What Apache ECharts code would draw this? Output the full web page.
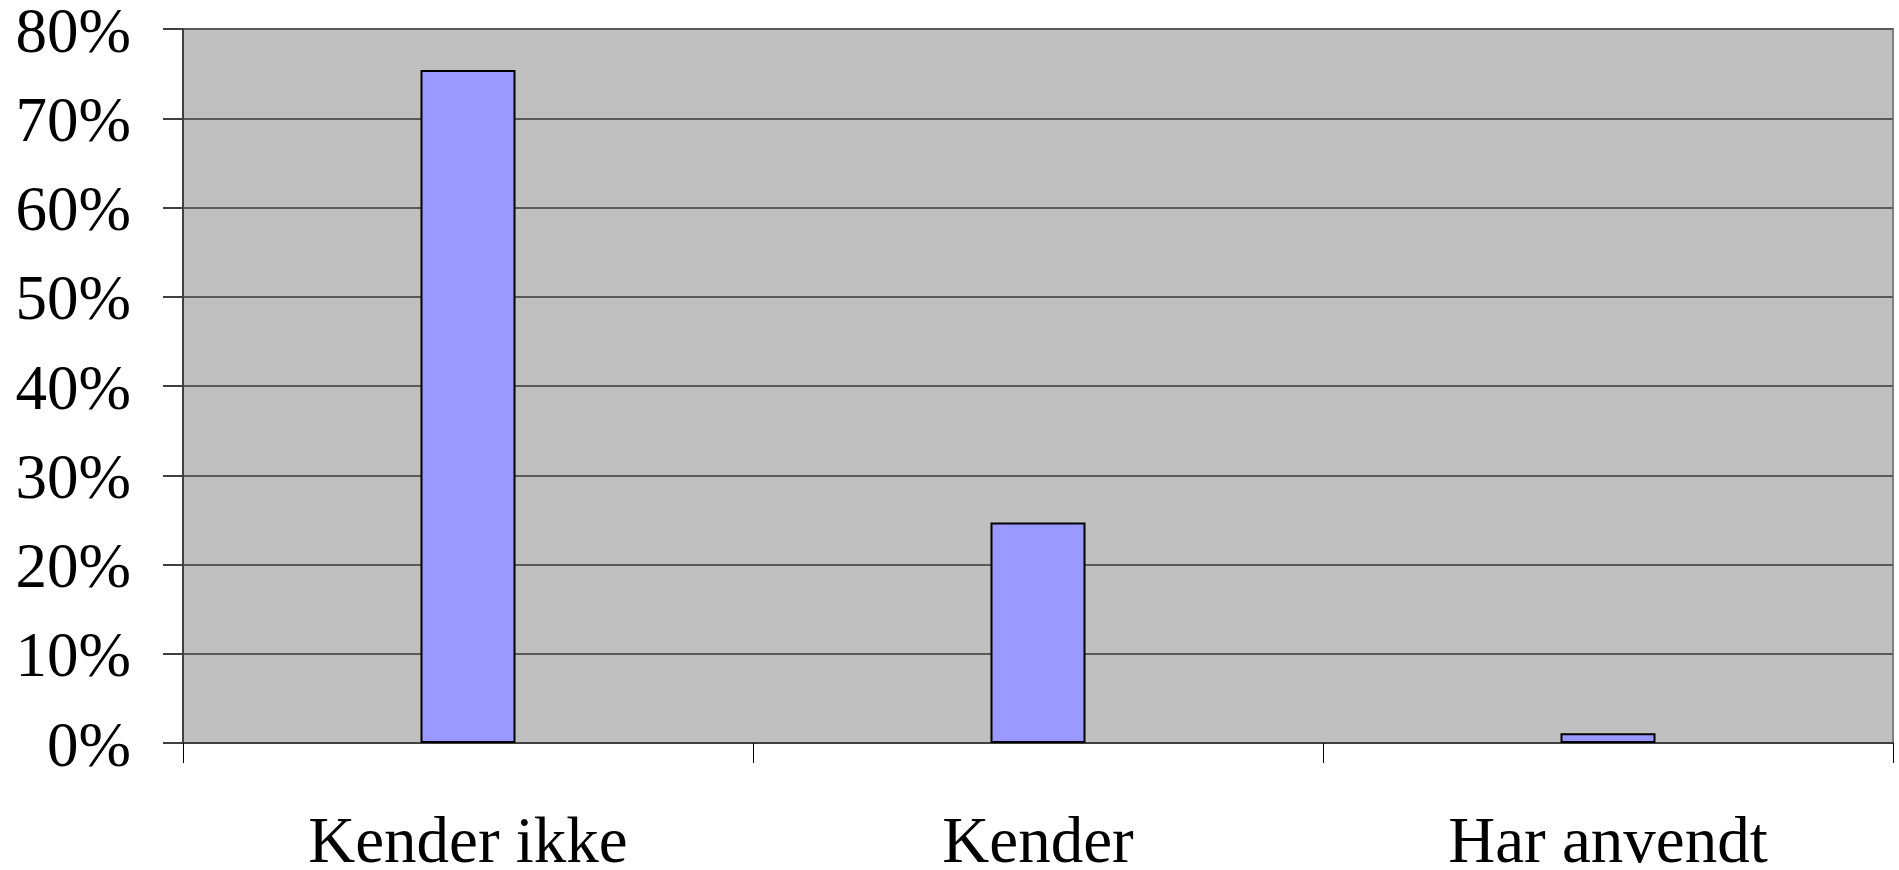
<!DOCTYPE html>
<html>
<head>
<meta charset="utf-8">
<script src="https://cdn.jsdelivr.net/npm/echarts@6/dist/echarts.min.js"></script>
<style>
html,body{margin:0;padding:0;background:#fff;}
#chart{width:1899px;height:870px;}
</style>
</head>
<body>
<div id="chart"></div>
<script>
const categories = ['Kender ikke', 'Kender', 'Har anvendt'];
const values = [75.4, 24.7, 1.1];
const yTicks = [0, 10, 20, 30, 40, 50, 60, 70, 80];

const chart = echarts.init(document.getElementById('chart'), null, {renderer: 'canvas'});
chart.setOption({
  animation: false,
  grid: {
    left: 183, right: 6, top: 29, bottom: 127,
    outerBoundsMode: 'none', containLabel: false,
    show: true, backgroundColor: '#C0C0C0', borderColor: '#808080', borderWidth: 2
  },
  xAxis: {
    type: 'category',
    data: categories,
    boundaryGap: true,
    axisLine: {show: true, lineStyle: {color: '#404040', width: 2}},
    axisTick: {show: true, alignWithLabel: false, length: 20, lineStyle: {color: '#000', width: 1}},
    axisLabel: {
      color: '#000', fontFamily: '"Liberation Serif", "Times New Roman", serif',
      fontSize: 65, margin: 69
    },
    splitLine: {show: false}
  },
  yAxis: {
    type: 'value',
    min: yTicks[0], max: yTicks[yTicks.length - 1], interval: 10,
    axisLine: {show: true, lineStyle: {color: '#404040', width: 2}},
    axisTick: {show: true, length: 20, lineStyle: {color: '#404040', width: 2}},
    axisLabel: {
      color: '#000', fontFamily: '"Liberation Serif", "Times New Roman", serif',
      fontSize: 63, margin: 52, verticalAlign: 'top', lineHeight: 12,
      formatter: v => v + '%'
    },
    splitLine: {show: true, lineStyle: {color: '#5a5a5a', width: 2}}
  },
  series: [{
    type: 'bar',
    data: values,
    barWidth: 95,
    itemStyle: {color: '#9999FF', borderColor: '#000', borderWidth: 2}
  }]
});
</script>
</body>
</html>
